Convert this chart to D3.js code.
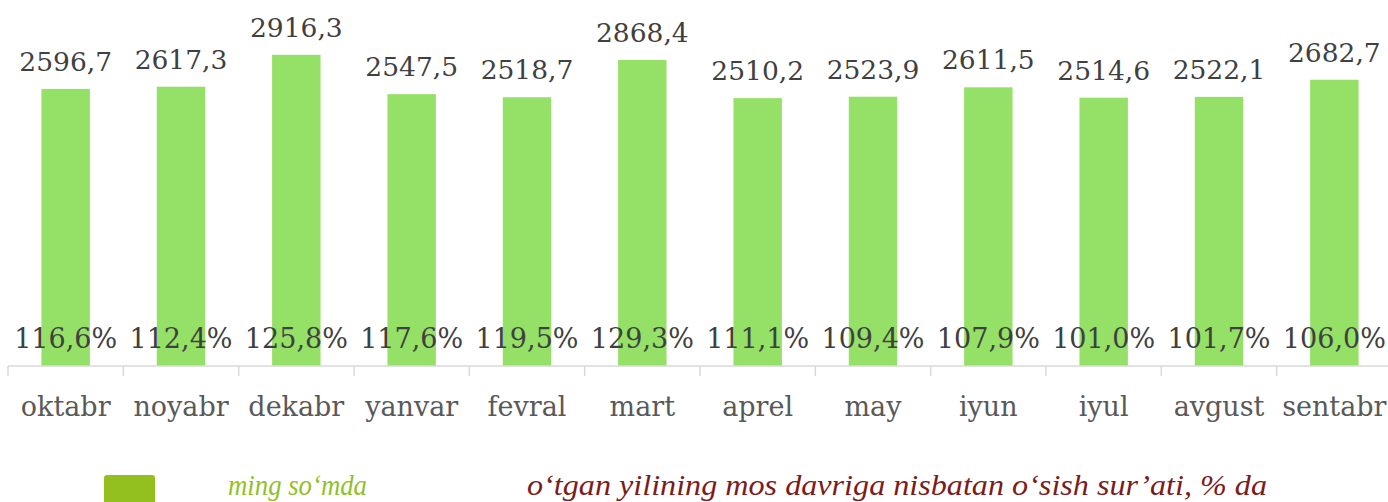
<!DOCTYPE html>
<html lang="uz">
<head>
    <meta charset="UTF-8">
    <title>O'rtacha ish haqi</title>
    <script src="https://d3js.org/d3.v7.min.js"></script>
    <style>
        body { margin: 0; background: #fff; }
        svg text { font-family: "DejaVu Serif", "Liberation Serif", serif; fill: #404040; }
        .value-label { font-size: 26.5px; }
        .pct-label { font-size: 27px; }
        .axis text { font-size: 27px; fill: #595959; }
        .axis path, .axis line { stroke: #d9d9d9; stroke-width: 1.5px; }
        .legend-text { font-family: "Liberation Serif", serif !important; font-size: 29px; font-style: italic; }
    </style>
</head>
<body>
<svg width="1388" height="502"></svg>
<script>
    // data
    const months = ["oktabr", "noyabr", "dekabr", "yanvar", "fevral", "mart",
        "aprel", "may", "iyun", "iyul", "avgust", "sentabr"];
    const wages = [2596.7, 2617.3, 2916.3, 2547.5, 2518.7, 2868.4,
        2510.2, 2523.9, 2611.5, 2514.6, 2522.1, 2682.7];
    const growth = [116.6, 112.4, 125.8, 117.6, 119.5, 129.3,
        111.1, 109.4, 107.9, 101.0, 101.7, 106.0];

    const fmt = v => v.toFixed(1).replace(".", ",");

    const svg = d3.select("svg");
    const left = 8, right = 1392, baseY = 366;

    const x = d3.scaleBand()
        .domain(months)
        .range([left, right])
        .paddingInner(0.58)
        .paddingOuter(0.29);

    const y = d3.scaleLinear()
        .domain([0, 3430])
        .range([baseY, 0]);

    svg.append("g")
        .selectAll("rect")
        .data(wages)
        .enter().append("rect")
        .attr("x", (d, i) => x(months[i]))
        .attr("y", d => y(d))
        .attr("width", x.bandwidth())
        .attr("height", d => baseY - y(d))
        .attr("fill", "#95e066");

    // axis with ticks between categories
    const axis = svg.append("g").attr("class", "axis");
    axis.append("line")
        .attr("x1", left).attr("x2", right)
        .attr("y1", baseY).attr("y2", baseY);
    const step = x.step();
    axis.selectAll("line.tick")
        .data(d3.range(months.length + 1))
        .enter().append("line")
        .attr("class", "tick")
        .attr("x1", i => left + i * step)
        .attr("x2", i => left + i * step)
        .attr("y1", baseY).attr("y2", baseY + 10);
    axis.selectAll("text")
        .data(months)
        .enter().append("text")
        .attr("x", d => x(d) + x.bandwidth() / 2)
        .attr("y", 416)
        .attr("text-anchor", "middle")
        .text(d => d);

    svg.append("g")
        .selectAll("text")
        .data(wages)
        .enter().append("text")
        .attr("class", "value-label")
        .attr("x", (d, i) => x(months[i]) + x.bandwidth() / 2)
        .attr("y", d => y(d) - 18)
        .attr("text-anchor", "middle")
        .text(d => fmt(d));

    svg.append("g")
        .selectAll("text")
        .data(growth)
        .enter().append("text")
        .attr("class", "pct-label")
        .attr("x", (d, i) => x(months[i]) + x.bandwidth() / 2)
        .attr("y", 348)
        .attr("text-anchor", "middle")
        .text(d => fmt(d) + "%");

    // legend (partly cut off at the bottom)
    svg.append("rect")
        .attr("x", 104).attr("y", 475)
        .attr("width", 51).attr("height", 40)
        .attr("rx", 3)
        .attr("fill", "#93c01f");
    svg.append("text")
        .attr("class", "legend-text")
        .attr("x", 228).attr("y", 495)
        .attr("textLength", 139)
        .attr("lengthAdjust", "spacingAndGlyphs")
        .style("fill", "#92c02a")
        .text("ming so‘mda");
    svg.append("text")
        .attr("class", "legend-text")
        .attr("x", 527).attr("y", 495)
        .attr("textLength", 740)
        .attr("lengthAdjust", "spacingAndGlyphs")
        .style("fill", "#7b1c1c")
        .text("o‘tgan yilining mos davriga nisbatan o‘sish sur’ati, % da");
</script>
</body>
</html>
